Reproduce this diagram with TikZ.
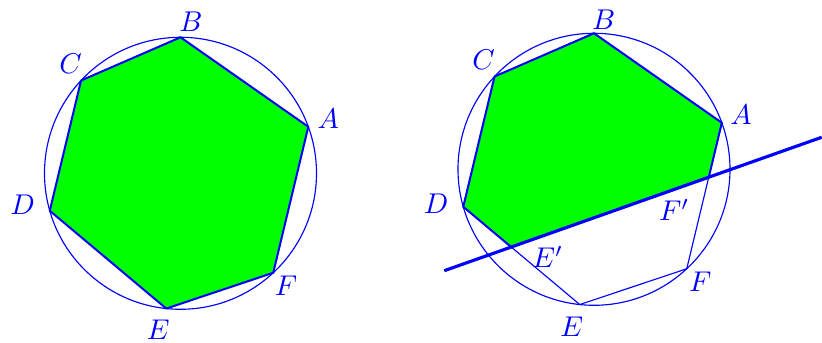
\documentclass[tikz,border=0pt]{standalone}
\usetikzlibrary{calc,intersections}
\begin{document}
\begin{tikzpicture}[x=0.35pt,y=-0.35pt,
  circ/.style={draw=blue,line width=0.4pt},
  poly/.style={draw=blue,fill=green,line width=0.7pt,line join=round},
  thinpoly/.style={draw=blue,line width=0.4pt,line join=round},
  cutline/.style={draw=blue,line width=1.1pt},
  lab/.style={text=blue,inner sep=0pt}]
\path[use as bounding box] (0,0) rectangle (822,343);
% ---------- left figure ----------
\coordinate (O1) at (180.5,173.3);
\coordinate (A1) at ($(O1)+(-20:136)$);
\coordinate (B1) at ($(O1)+(-90:136)$);
\coordinate (C1) at ($(O1)+(-137:136)$);
\coordinate (D1) at ($(O1)+(-196:136)$);
\coordinate (E1) at ($(O1)+(-264:136)$);
\coordinate (F1) at ($(O1)+(-313:136)$);
\draw[circ] (O1) circle[radius=136];
\path[poly] (A1) -- (B1) -- (C1) -- (D1) -- (E1) -- (F1) -- cycle;
\node[lab] (lA1) at (328.3,118.3) {$A$};
\node[lab] (lB1) at (191,21.7) {$B$};
\node[lab] (lC1) at (70.7,64) {$C$};
\node[lab] (lD1) at (22.7,205) {$D$};
\node[lab] (lE1) at (158.3,330) {$E$};
\node[lab] (lF1) at (286,286) {$F$};
% ---------- right figure ----------
\coordinate (O2) at (594,169.3);
\coordinate (A2) at ($(O2)+(-20:136)$);
\coordinate (B2) at ($(O2)+(-90:136)$);
\coordinate (C2) at ($(O2)+(-137:136)$);
\coordinate (D2) at ($(O2)+(-196:136)$);
\coordinate (E2) at ($(O2)+(-264:136)$);
\coordinate (F2) at ($(O2)+(-313:136)$);
\coordinate (L1) at (444.3,270.7);
\coordinate (L2) at (821.7,137.3);
\coordinate (Ep) at (intersection of D2--E2 and L1--L2);
\coordinate (Fp) at (intersection of A2--F2 and L1--L2);
\draw[circ] (O2) circle[radius=136];
\path[thinpoly] (A2) -- (B2) -- (C2) -- (D2) -- (E2) -- (F2) -- cycle;
\path[poly] (Fp) -- (A2) -- (B2) -- (C2) -- (D2) -- (Ep) -- cycle;
\draw[cutline] (L1) -- (L2);
\node[lab] (lA2) at (741,115) {$A$};
\node[lab] (lB2) at (603.7,20) {$B$};
\node[lab] (lC2) at (483.7,59.3) {$C$};
\node[lab] (lD2) at (436,203.3) {$D$};
\node[lab] (lE2) at (571.7,326.7) {$E$};
\node[lab] (lF2) at (700.3,281.7) {$F$};
\node[lab] (lEp) at (547.7,256.7) {$E'$};
\node[lab] (lFp) at (674.3,210) {$F'$};
\end{tikzpicture}
\end{document}
